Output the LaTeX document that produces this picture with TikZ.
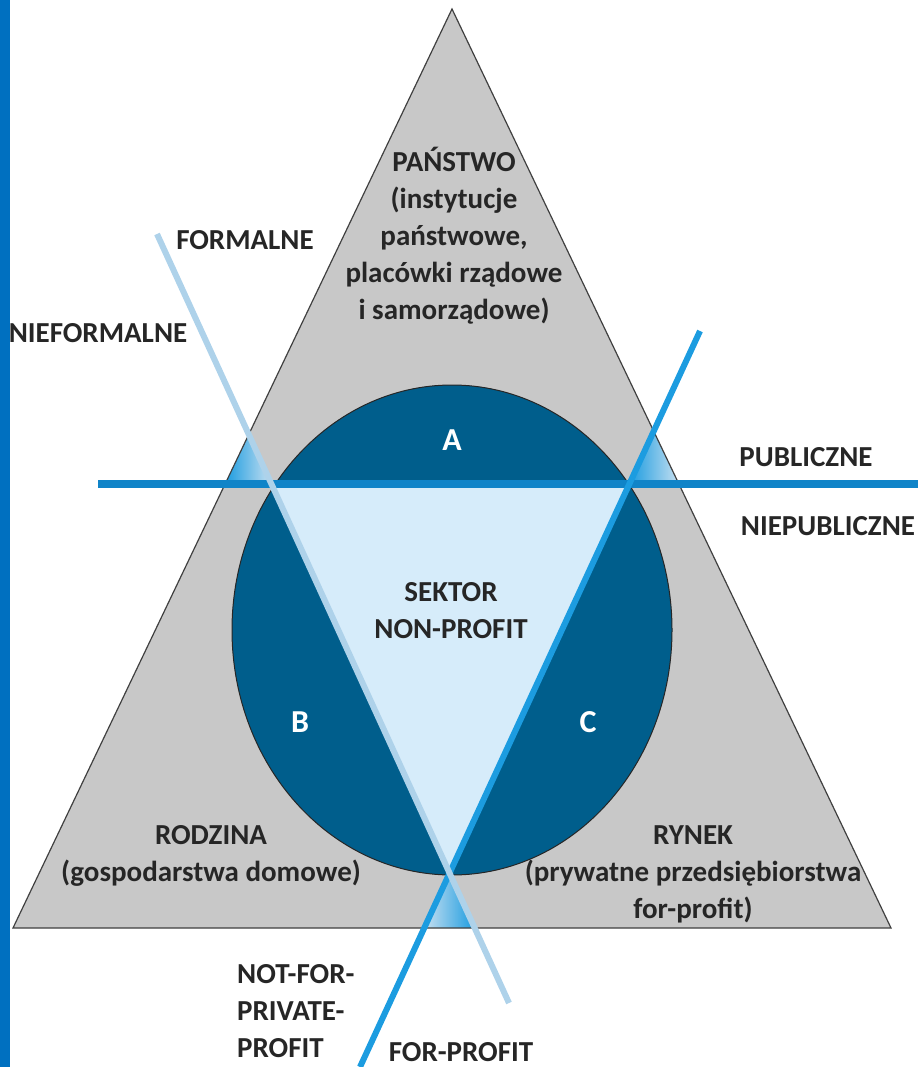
\documentclass[tikz,border=0pt]{standalone}
\usepackage{fontspec}
\setmainfont{Carlito}
\usepackage{xcolor}
\usepackage{tikz}
\definecolor{barblue}{RGB}{0,112,192}
\definecolor{sectorgrey}{RGB}{200,200,200}
\definecolor{ringblue}{RGB}{0,94,140}
\definecolor{corelight}{RGB}{214,236,250}
\definecolor{publine}{RGB}{16,132,200}
\definecolor{profitline}{RGB}{28,156,224}
\definecolor{formline}{RGB}{174,210,234}
\definecolor{textgrey}{RGB}{38,38,38}
\tikzset{
    sectortext/.style={font=\bfseries\fontsize{29}{37}\selectfont, text=textgrey, align=center, inner sep=0pt},
    zonetext/.style={font=\bfseries\fontsize{32}{36}\selectfont, text=white, inner sep=0pt},
    sideedge/.style={draw=black!75, line width=1.2pt, line join=miter},
    ringedge/.style={draw=black!85, line width=1pt},
    wedge/.style={left color=profitline, right color=formline!70}
}

\begin{document}
\begin{tikzpicture}[x=1pt, y=-1pt]
    \useasboundingbox (0,0) rectangle (918,1067);
    \fill[barblue] (0,0) rectangle (10,1067); % page edge
    \coordinate (apex) at (452,9);
    \coordinate (baseL) at (13,928);
    \coordinate (baseR) at (891,928);
    \coordinate (pubW) at (98,484);
    \coordinate (pubE) at (918,484);
    \coordinate (formN) at (157,234);
    \coordinate (formS) at (509,1003);
    \coordinate (profN) at (700,331);
    \coordinate (profS) at (360,1067);
    \coordinate (coreW) at (intersection of pubW--pubE and formN--formS);
    \coordinate (coreE) at (intersection of pubW--pubE and profN--profS);
    \coordinate (coreS) at (intersection of formN--formS and profN--profS);
    \fill[sectorgrey] (apex) -- (baseL) -- (baseR) -- cycle;
    % small wedges at the crossings
    \shade[wedge] (intersection of apex--baseL and formN--formS) -- (intersection of apex--baseL and pubW--pubE) -- (coreW) -- cycle;
    \shade[wedge] (intersection of apex--baseR and profN--profS) -- (coreE) -- (intersection of apex--baseR and pubW--pubE) -- cycle;
    \shade[left color=formline!70, right color=profitline] (coreS) -- (intersection of baseL--baseR and formN--formS) -- (intersection of baseL--baseR and profN--profS) -- cycle;
    \draw[sideedge] (apex) -- (baseL) -- (baseR) -- cycle;
    % ring and non-profit core
    \fill[ringblue] (452,630) ellipse [x radius=220pt, y radius=245pt];
    \draw[ringedge] (452,630) ellipse [x radius=220pt, y radius=245pt];
    \begin{scope}
        \clip (452,630) ellipse [x radius=219pt, y radius=244pt];
        \fill[corelight] (coreW) -- (coreE) -- (coreS) -- cycle;
    \end{scope}
    % dividing lines
    \draw[publine, line width=8pt] (pubW) -- (pubE);
    \draw[profitline, line width=6pt] (profN) -- (profS);
    \draw[formline, line width=6pt] (formN) -- (formS);
    % texts
    \node[sectortext] (state) at (454,236) {PAŃSTWO\\(instytucje\\państwowe,\\placówki rządowe\\i samorządowe)};
    \node[sectortext] (formal) at (245,240) {FORMALNE};
    \node[sectortext] (informal) at (98,333) {NIEFORMALNE};
    \node[sectortext] (public) at (806,457) {PUBLICZNE};
    \node[sectortext] (nonpublic) at (828,526) {NIEPUBLICZNE};
    \node[zonetext] (zoneA) at (452,440) {A};
    \node[zonetext] (zoneB) at (300,722) {B};
    \node[zonetext] (zoneC) at (588,722) {C};
    \node[sectortext] (nonprofit) at (451,611) {SEKTOR\\NON-PROFIT};
    \node[sectortext] (family) at (211,856) {RODZINA\\(gospodarstwa domowe)};
    \node[sectortext] (market) at (693,874) {RYNEK\\(prywatne przedsiębiorstwa\\for-profit)};
    \node[sectortext, align=left, anchor=west] (notforprofit) at (237,1011) {NOT-FOR-\\PRIVATE-\\PROFIT};
    \node[sectortext] (forprofit) at (461,1052) {FOR-PROFIT};
\end{tikzpicture}
\end{document}
